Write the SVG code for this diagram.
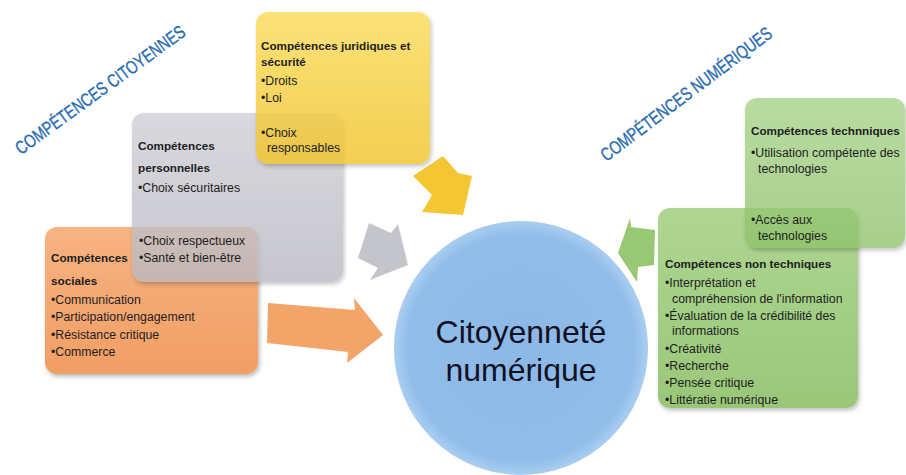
<svg xmlns="http://www.w3.org/2000/svg" width="906" height="475" viewBox="0 0 906 475">
  <defs>
    <linearGradient id="gYellow" x1="0" y1="0" x2="0" y2="1">
      <stop offset="0" stop-color="#fbdc5c"/>
      <stop offset="1" stop-color="#f2c42c"/>
    </linearGradient>
    <linearGradient id="gGray" x1="0" y1="0" x2="0" y2="1">
      <stop offset="0" stop-color="#cfcfd6"/>
      <stop offset="1" stop-color="#b9b9c2"/>
    </linearGradient>
    <linearGradient id="gOrange" x1="0" y1="0" x2="0" y2="1">
      <stop offset="0" stop-color="#f7b382"/>
      <stop offset="1" stop-color="#f19e64"/>
    </linearGradient>
    <linearGradient id="gGreen" x1="0" y1="0" x2="0" y2="1">
      <stop offset="0" stop-color="#a6d287"/>
      <stop offset="1" stop-color="#8fc26b"/>
    </linearGradient>
    <radialGradient id="gBlue" cx="0.5" cy="0.5" r="0.5">
      <stop offset="0" stop-color="#8cb8e7"/>
      <stop offset="0.9" stop-color="#91bdea"/>
      <stop offset="1" stop-color="#a8cdf1"/>
    </radialGradient>
    <filter id="shadow" x="-10%" y="-10%" width="125%" height="125%">
      <feDropShadow dx="1.5" dy="2.5" stdDeviation="2" flood-color="#000" flood-opacity="0.28"/>
    </filter>
  </defs>
  <style>
    .box { stroke: none; filter: url(#shadow); }
    .t { font-family: "Liberation Sans", Arial, sans-serif; font-size: 12.3px; fill: #1e1e1e; }
    .b { font-family: "Liberation Sans", Arial, sans-serif; font-size: 11.7px; font-weight: bold; fill: #1e1e1e; }
    .lbl { font-family: "Liberation Sans", Arial, sans-serif; font-size: 18.5px; fill: #2a6bb2; stroke: #2a6bb2; stroke-width: 0.35; text-anchor: middle; }
    .big { font-family: "Liberation Sans", Arial, sans-serif; font-size: 32px; fill: #111122; text-anchor: middle; }
    .arrow { stroke: none; }
  </style>

  <rect width="906" height="475" fill="#ffffff"/>

  <g id="label-citoyennes" transform="translate(104,95) rotate(-36) scale(0.765,1)">
    <text class="lbl" x="0" y="0">COMPÉTENCES CITOYENNES</text>
  </g>
  <g id="label-numeriques" transform="translate(690,99) rotate(-37) scale(0.765,1)">
    <text class="lbl" x="0" y="0">COMPÉTENCES NUMÉRIQUES</text>
  </g>

  <g id="connectors">
    <polygon class="arrow" fill="#f4c634" points="413,176 443,156 458,173 472,176 463,215 422,212 432,195"/>
    <polygon class="arrow" fill="#c4c4cb" points="369,223 391,233 398,224 408,265 370,280 378,268 358,258"/>
    <polygon class="arrow" fill="#f3a468" points="268,303 355,310 354,298 383,335 347,363 348,352 267,343"/>
    <polygon class="arrow" fill="#98c874" points="655,230 631,227 630,218 618,253 637,282 638,267 654,265"/>
  </g>

  <g id="circle-citoyennete">
    <circle cx="521" cy="348" r="126" fill="url(#gBlue)" stroke="#a9cbee" stroke-width="2"/>
    <text class="big" x="521" y="343">Citoyenneté</text>
    <text class="big" x="521" y="381">numérique</text>
  </g>

  <g id="box-sociales">
    <rect class="box" x="45" y="227" width="213" height="147" rx="12" fill="url(#gOrange)"/>
    <text class="b" x="51" y="262">Compétences</text>
    <text class="b" x="51" y="285">sociales</text>
    <text class="t" x="51" y="304">•Communication</text>
    <text class="t" x="51" y="321">•Participation/engagement</text>
    <text class="t" x="51" y="339">•Résistance critique</text>
    <text class="t" x="51" y="356">•Commerce</text>
  </g>

  <g id="box-personnelles">
    <rect class="box" x="132" y="113" width="211" height="169" rx="12" fill="url(#gGray)" opacity="0.8"/>
    <text class="b" x="138" y="150">Compétences</text>
    <text class="b" x="138" y="172">personnelles</text>
    <text class="t" x="138" y="192">•Choix sécuritaires</text>
    <text class="t" x="139" y="245">•Choix respectueux</text>
    <text class="t" x="139" y="262">•Santé et bien-être</text>
  </g>

  <g id="box-juridiques">
    <rect class="box" x="256" y="12" width="174" height="152" rx="12" fill="url(#gYellow)" opacity="0.82"/>
    <text class="b" x="261" y="50">Compétences juridiques et</text>
    <text class="b" x="261" y="66">sécurité</text>
    <text class="t" x="261" y="85">•Droits</text>
    <text class="t" x="261" y="102">•Loi</text>
    <text class="t" x="261" y="137">•Choix</text>
    <text class="t" x="267" y="152">responsables</text>
  </g>

  <g id="box-non-techniques">
    <rect class="box" x="658" y="208" width="200" height="200" rx="12" fill="url(#gGreen)" opacity="0.9"/>
    <text class="b" x="665" y="268">Compétences non techniques</text>
    <text class="t" x="665" y="287">•Interprétation et</text>
    <text class="t" x="672" y="303">compréhension de l'information</text>
    <text class="t" x="665" y="320">•Évaluation de la crédibilité des</text>
    <text class="t" x="672" y="335">informations</text>
    <text class="t" x="665" y="353">•Créativité</text>
    <text class="t" x="665" y="370">•Recherche</text>
    <text class="t" x="665" y="387">•Pensée critique</text>
    <text class="t" x="665" y="404">•Littératie numérique</text>
  </g>

  <g id="box-techniques">
    <rect class="box" x="745" y="98" width="160" height="150" rx="12" fill="url(#gGreen)" opacity="0.78"/>
    <text class="b" x="751" y="135">Compétences technniques</text>
    <text class="t" x="751" y="157">•Utilisation compétente des</text>
    <text class="t" x="758" y="173">technologies</text>
    <text class="t" x="751" y="224">•Accès aux</text>
    <text class="t" x="758" y="240">technologies</text>
  </g>
</svg>
